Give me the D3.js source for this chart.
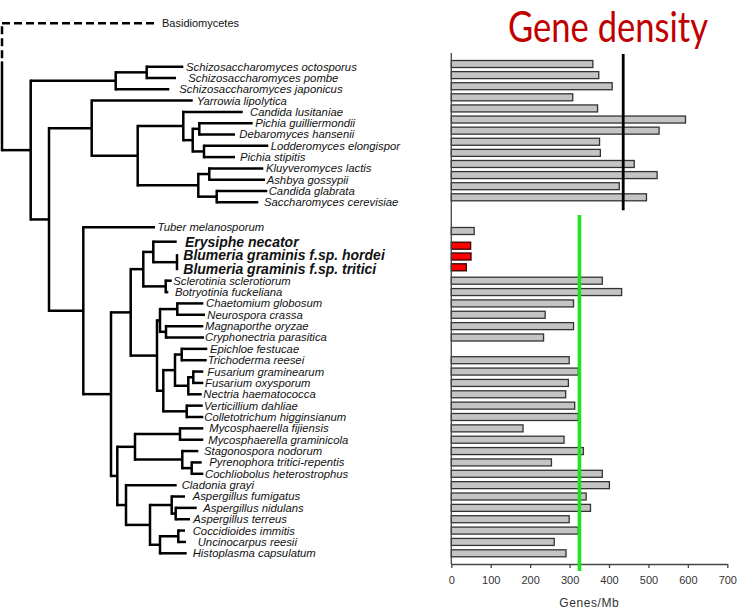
<!DOCTYPE html>
<html><head><meta charset="utf-8">
<script src="https://cdn.jsdelivr.net/npm/d3@7"></script>
<style>body{margin:0;background:#fff}</style>
</head><body>
<svg id="c" width="738" height="609"></svg>
<script>
// ---------------- DATA ----------------
const species = [
  "Schizosaccharomyces octosporus","Schizosaccharomyces pombe","Schizosaccharomyces japonicus",
  "Yarrowia lipolytica","Candida lusitaniae","Pichia guilliermondii","Debaromyces hansenii",
  "Lodderomyces elongispor","Pichia stipitis","Kluyveromyces lactis","Ashbya gossypii",
  "Candida glabrata","Saccharomyces cerevisiae","Tuber melanosporum","Erysiphe necator",
  "Blumeria graminis f.sp. hordei","Blumeria graminis f.sp. tritici","Sclerotinia sclerotiorum",
  "Botryotinia fuckeliana","Chaetomium globosum","Neurospora crassa","Magnaporthe oryzae",
  "Cryphonectria parasitica","Epichloe festucae","Trichoderma reesei","Fusarium graminearum",
  "Fusarium oxysporum","Nectria haematococca","Verticillium dahliae","Colletotrichum higginsianum",
  "Mycosphaerella fijiensis","Mycosphaerella graminicola","Stagonospora nodorum",
  "Pyrenophora tritici-repentis","Cochliobolus heterostrophus","Cladonia grayi",
  "Aspergillus fumigatus","Aspergillus nidulans","Aspergillus terreus","Coccidioides immitis",
  "Uncinocarpus reesii","Histoplasma capsulatum"
];
// genes per Mb (null = not available)
const geneDensity = [
  359,374,408,308,371,594,527,376,378,464,522,426,495,
  58,49,50,38,383,432,310,238,310,234,null,299,322,297,290,313,322,
  182,286,335,254,383,401,342,353,299,322,261,291
];
// powdery mildews (highlighted in red, bold labels)
const powderyMildew = [14,15,16];
const outgroupName = "Basidiomycetes";
const tickValues = [0,100,200,300,400,500,600,700];
const saccharomycotinaMean = 436;
const pezizomycotinaMean = 325;
const titleText = "Gene density";
const axisTitle = "Genes/Mb";

// tree: cumulative branch depth, children / leaf index
const N = (d, ...c) => ({d, c});
const L = (i, d) => ({d, i});
const tree = N(0,
  L("out", 153),
  N(28.7,
    N(113.7, N(144.7, L(0,181.3), L(1,174)), L(2,167.3)),
    N(47,
      N(89.7, L(3,190.7),
        N(135.7,
          N(181.3, L(4,240.7), N(190.7, N(197.3, L(5,250.7), L(6,233)), N(202, L(7,266.3), L(8,233)))),
          N(196.3, N(207.3, L(9,261.3), L(10,263)), N(214.7, L(11,265.3), L(12,256.3))))),
      N(81.3, L(13,153),
        N(109,
          N(128.7,
            N(141.3, N(151.3, L(14,174.7), N(175, L(15,175), L(16,175))), N(163.7, L(17,169.7), L(18,166.3))),
            N(155,
              N(158, N(175.3, L(19,201.3), L(20,203)), N(164, L(21,201.3), L(22,202))),
              N(161.3,
                N(173, N(179.7, L(23,205.3), L(24,204.7)), N(186.3, N(191.3, L(25,201.3), L(26,201.3)), L(27,199.7))),
                N(184.7, L(28,200.7), L(29,201.3))))),
          N(115.3,
            N(133, N(178, L(30,201.3), L(31,201.3)), N(180.3, L(32,196.3), N(189.7, L(33,199.7), L(34,201.3)))),
            N(124, L(35,174.7),
              N(148,
                N(169.7, L(36,183), N(173.7, L(37,194.7), L(38,188))),
                N(158, N(176.3, L(39,183), L(40,184)), L(41,184.7))))))))));

// ---------------- LAYOUT ----------------
const labelGap = [2.7,12.3,10,4,7.3,2.6,4.3,2.4,5,2.7,1.7,1.4,5.7,2.6,8.3,6.3,6.3,1.6,6.7,2.7,2.3,1.7,1,2.7,1,4,1.7,1.6,1.3,1,6,5,5.7,7.6,1.7,5,7.7,6.6,3.3,7.7,11.7,6];
const outgroupRow = -4;

const svg = d3.select("#c");
const x = d3.scaleLinear().domain([0,700]).range([451.3,727.3]);
const barY = d3.scaleLinear().domain([0,12,13,14,16,17,41]).range([64,197.3,231,245.7,267.3,280.7,553.3]);
const treeY = d3.scaleLinear().domain([-4,0,12,13,14,16,17,41]).range([23.3,66.7,202.3,227.3,241.7,269,280.7,553.3]);
const treeX = d3.scaleLinear().domain([0,270]).range([2,272]);
const axisY = 564;
const barH = 7;

// ---------------- TITLE ----------------
svg.append("g").attr("transform","translate(508,42) scale(1,1.16)")
  .append("text").attr("x",0).attr("y",0)
  .attr("font-family","Lato, 'Open Sans', sans-serif").attr("font-size",36)
  .attr("textLength",200).attr("lengthAdjust","spacingAndGlyphs")
  .attr("fill","#c00000").text(titleText);

// ---------------- TREE ----------------
const root = d3.hierarchy(tree, d => d.c);
root.eachAfter(n => {
  n.px = treeX(n.data.d);
  if (n.children) {
    n.py = (n.children[0].py + n.children[n.children.length-1].py)/2;
  } else {
    n.py = treeY(n.data.i === "out" ? outgroupRow : n.data.i);
  }
});
const gT = svg.append("g").attr("fill","none").attr("stroke","#000").attr("stroke-width",2.5);
const hw = 1.25;
root.each(n => {
  if (!n.children) return;
  const first = n.children[0], last = n.children[n.children.length-1];
  const isRoot = !n.parent;
  if (isRoot) {
    const outY = first.py;
    const dashEnd = outY + (last.py - outY)*0.3;
    gT.append("path").attr("d",`M${n.px},${outY}V${dashEnd}`).attr("stroke-dasharray","8,4").attr("stroke-dashoffset",-3);
    gT.append("path").attr("d",`M${n.px},${dashEnd}V${last.py+hw}`);
  } else {
    gT.append("path").attr("d",`M${n.px},${first.py-hw}V${last.py+hw}`);
  }
  n.children.forEach(ch => {
    if (ch.px - n.px < 0.5) return;
    const p = gT.append("path").attr("d",`M${n.px},${ch.py}H${ch.px}`);
    if (ch.data.i === "out") p.attr("stroke-dasharray","8,4");
  });
});
// leaf labels
const gL = svg.append("g").attr("font-family","'Liberation Sans', Arial, sans-serif").attr("fill","#111");
root.leaves().forEach(l => {
  const i = l.data.i;
  if (i === "out") {
    gL.append("text").attr("x", l.px + 7).attr("y", l.py).attr("dy","0.35em")
      .attr("font-size",11).text(outgroupName);
    return;
  }
  const bold = powderyMildew.includes(i);
  gL.append("text").attr("x", l.px + labelGap[i]).attr("y", l.py).attr("dy","0.35em")
    .attr("font-size", bold ? 14 : 11.3)
    .attr("font-style","italic").attr("font-weight", bold ? "bold" : "normal")
    .text(species[i]);
});

// ---------------- BARS ----------------
const gB = svg.append("g");
species.forEach((s,i) => {
  const v = geneDensity[i];
  if (v == null) return;
  const hl = powderyMildew.includes(i);
  gB.append("rect").attr("x", x(0)).attr("y", barY(i)-barH/2)
    .attr("width", x(v)-x(0)).attr("height", barH)
    .attr("fill", hl ? "#ff0000" : "#c4c4c4")
    .attr("stroke", hl ? "#300" : "#333").attr("stroke-width",1.3);
});

// axes
svg.append("line").attr("x1",x(0)).attr("x2",x(0)).attr("y1",53).attr("y2",axisY)
  .attr("stroke","#444").attr("stroke-width",1.3);
const ax = svg.append("g").attr("transform",`translate(0,${axisY})`)
  .call(d3.axisBottom(x).tickValues(tickValues).tickSize(4).tickSizeOuter(0).tickPadding(8).tickFormat(d3.format("d")));
ax.select(".domain").attr("stroke","#444").attr("stroke-width",1.3);
ax.selectAll(".tick line").attr("stroke","#444").attr("stroke-width",1.3);
ax.selectAll(".tick text").attr("font-family","'Liberation Sans', Arial, sans-serif").attr("font-size",11).attr("fill","#333");
svg.append("text").attr("x",x(350)).attr("y",607).attr("text-anchor","middle")
  .attr("font-family","'Liberation Sans', Arial, sans-serif").attr("font-size",12).attr("letter-spacing",0.6)
  .attr("fill","#333").text(axisTitle);

// mean lines
svg.append("line").attr("x1",x(saccharomycotinaMean)).attr("x2",x(saccharomycotinaMean))
  .attr("y1",barY(0)-10).attr("y2",barY(12)+13).attr("stroke","#000").attr("stroke-width",2.8);
svg.append("line").attr("x1",x(pezizomycotinaMean)).attr("x2",x(pezizomycotinaMean))
  .attr("y1",barY(13)-16).attr("y2",axisY+7).attr("stroke","#22e022").attr("stroke-width",3.6);
</script>
</body></html>
